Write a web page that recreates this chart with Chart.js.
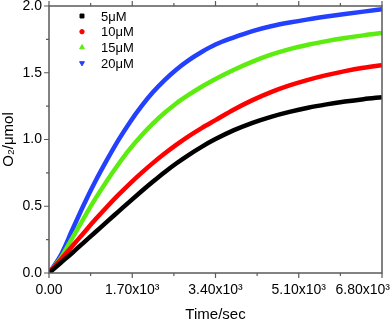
<!DOCTYPE html>
<html>
<head>
<meta charset="utf-8">
<script src="https://cdn.jsdelivr.net/npm/chart.js@4/dist/chart.umd.min.js"></script>
<style>
  html, body { margin: 0; padding: 0; background: #fff; overflow: hidden; }
  #wrap { width: 392px; height: 322px; }
  canvas { display: block; }
</style>
</head>
<body>
<div id="wrap"><canvas id="chart" width="392" height="322"></canvas></div>
<script>
// time axis (s) and O2 evolved (umol)
var times   = [0, 250, 500, 750, 1000, 1250, 1500, 1750, 2000, 2250, 2500, 2750, 3000, 3300, 3600, 4000, 4400, 4800, 5200, 5600, 6000, 6400, 6800, 7200];
var conc5   = [0, 0.075, 0.15, 0.228, 0.305, 0.383, 0.46, 0.537, 0.612, 0.685, 0.755, 0.82, 0.88, 0.945, 1.003, 1.07, 1.125, 1.17, 1.207, 1.238, 1.263, 1.284, 1.302, 1.317];
var conc10  = [0, 0.10, 0.20, 0.30, 0.40, 0.495, 0.585, 0.67, 0.75, 0.825, 0.895, 0.96, 1.02, 1.085, 1.145, 1.225, 1.295, 1.355, 1.405, 1.447, 1.482, 1.512, 1.537, 1.557];
var conc15  = [0, 0.11, 0.26, 0.41, 0.555, 0.69, 0.815, 0.93, 1.03, 1.12, 1.20, 1.27, 1.33, 1.395, 1.453, 1.522, 1.583, 1.635, 1.677, 1.71, 1.737, 1.76, 1.78, 1.797];
var conc20  = [0, 0.13, 0.32, 0.51, 0.685, 0.845, 0.995, 1.13, 1.25, 1.355, 1.445, 1.523, 1.589, 1.655, 1.711, 1.765, 1.812, 1.848, 1.876, 1.90, 1.921, 1.94, 1.958, 1.975];

var seriesLabels = ['5\u03bcM', '10\u03bcM', '15\u03bcM', '20\u03bcM'];
var seriesColors = ['#000000', '#ff0000', '#5cec10', '#2440ff'];
var seriesMarkers = ['rect', 'circle', 'triangle', 'triangle'];
var markerTurn = [0, 0, 0, 180];

var xTickLabels = ['0.00', '1.70x10\u00b3', '3.40x10\u00b3', '5.10x10\u00b3', '6.80x10\u00b3'];
var yTickLabels = ['0.0', '0.5', '1.0', '1.5', '2.0'];

var FONT = '"Liberation Sans", Arial, sans-serif';
var AXIS = '#5a5a5a';

function pairs(ys) {
  return times.map(function(t, i) { return { x: t, y: ys[i] }; });
}

var allSeries = [conc5, conc10, conc15, conc20];
var datasets = allSeries.map(function(ys, i) {
  return {
    label: seriesLabels[i],
    data: pairs(ys),
    borderColor: seriesColors[i],
    backgroundColor: seriesColors[i],
    borderWidth: 4.5,
    pointRadius: 0,
    pointStyle: seriesMarkers[i],
    pointRotation: markerTurn[i],
    cubicInterpolationMode: 'monotone',
    fill: false
  };
});

// frame, ticks (major/minor) and x labels, placed through the chart scales
var frameTicks = {
  id: 'frameTicks',
  afterDraw: function(chart) {
    var ctx = chart.ctx, a = chart.chartArea;
    var xs = chart.scales.x, ys = chart.scales.y;
    ctx.save();
    ctx.strokeStyle = AXIS;
    ctx.lineWidth = 1.5;
    ctx.strokeRect(a.left, a.top, a.right - a.left, a.bottom - a.top);
    ctx.lineWidth = 1.2;
    ctx.beginPath();
    xs.ticks.forEach(function(t, i) {
      var px = xs.getPixelForValue(t.value);
      var len = (i % 2 === 0) ? 5 : 3;
      ctx.moveTo(px, a.bottom); ctx.lineTo(px, a.bottom + len);
      ctx.moveTo(px, a.top); ctx.lineTo(px, a.top - len);
    });
    ys.ticks.forEach(function(t, i) {
      var py = ys.getPixelForValue(t.value);
      var len = (i % 2 === 0) ? 5 : 3;
      ctx.moveTo(a.left, py); ctx.lineTo(a.left - len, py);
    });
    ctx.stroke();

    // x tick labels; the last one is kept inside the canvas
    ctx.font = '14px ' + FONT;
    ctx.fillStyle = '#000';
    ctx.textBaseline = 'middle';
    var last = xs.ticks.length - 1;
    xs.ticks.forEach(function(t, i) {
      if (i % 2 !== 0) return;
      var label = xTickLabels[i / 2];
      var px = xs.getPixelForValue(t.value);
      var w = ctx.measureText(label).width;
      if (i === last) {
        ctx.textAlign = 'right';
        ctx.fillText(label, Math.min(px + w / 2, chart.width - 2), a.bottom + 17);
      } else {
        ctx.textAlign = 'center';
        ctx.fillText(label, px, a.bottom + 17);
      }
    });
    ctx.restore();
  }
};

// legend inside the plot, top left
var innerLegend = {
  id: 'innerLegend',
  afterDraw: function(chart) {
    var ctx = chart.ctx, a = chart.chartArea;
    ctx.save();
    ctx.font = '13px ' + FONT;
    ctx.textBaseline = 'middle';
    ctx.textAlign = 'left';
    chart.data.datasets.forEach(function(ds, i) {
      var y = a.top + 10 + i * 15.7;
      var x = a.left + 33;
      ctx.fillStyle = ds.borderColor;
      ctx.strokeStyle = ds.borderColor;
      Chart.helpers.drawPoint(ctx, {
        pointStyle: ds.pointStyle,
        rotation: ds.pointRotation,
        radius: ds.pointStyle === 'circle' ? 2.2 : 2.8,
        borderWidth: 0.5
      }, x, y);
      ctx.fillStyle = '#000';
      ctx.fillText(ds.label, a.left + 52, y + 1);
    });
    ctx.restore();
  }
};

new Chart(document.getElementById('chart'), {
  type: 'line',
  data: { datasets: datasets },
  options: {
    responsive: false,
    animation: false,
    devicePixelRatio: 1,
    layout: { padding: { top: 6, right: 10, left: 0, bottom: 0 } },
    plugins: {
      legend: { display: false },
      tooltip: { enabled: false }
    },
    scales: {
      x: {
        type: 'linear',
        min: 0,
        max: 7200,
        grid: { display: false, drawTicks: false },
        border: { display: false },
        ticks: {
          display: false,
          stepSize: 850,
          includeBounds: false,
          autoSkip: false,
          maxRotation: 0
        },
        title: {
          display: true,
          text: 'Time/sec',
          color: '#000',
          font: { family: FONT, size: 15, lineHeight: 1 },
          padding: { top: 0, bottom: 0 }
        },
        afterFit: function(s) { s.height = 49; s.paddingLeft = 0; s.paddingRight = 0; }
      },
      y: {
        min: 0,
        max: 2,
        grid: { display: false, drawTicks: false },
        border: { display: false },
        ticks: {
          stepSize: 0.25,
          autoSkip: false,
          padding: 7,
          color: '#000',
          font: { family: FONT, size: 14 },
          callback: function(v, i) { return i % 2 === 0 ? yTickLabels[i / 2] : ''; }
        },
        title: {
          display: true,
          text: 'O\u2082/\u03bcmol',
          color: '#000',
          font: { family: FONT, size: 15 },
          padding: { top: 0, bottom: 0 }
        },
        afterFit: function(s) { s.width = 49; s.paddingTop = 0; s.paddingBottom = 0; }
      }
    }
  },
  plugins: [frameTicks, innerLegend]
});
</script>
</body>
</html>
